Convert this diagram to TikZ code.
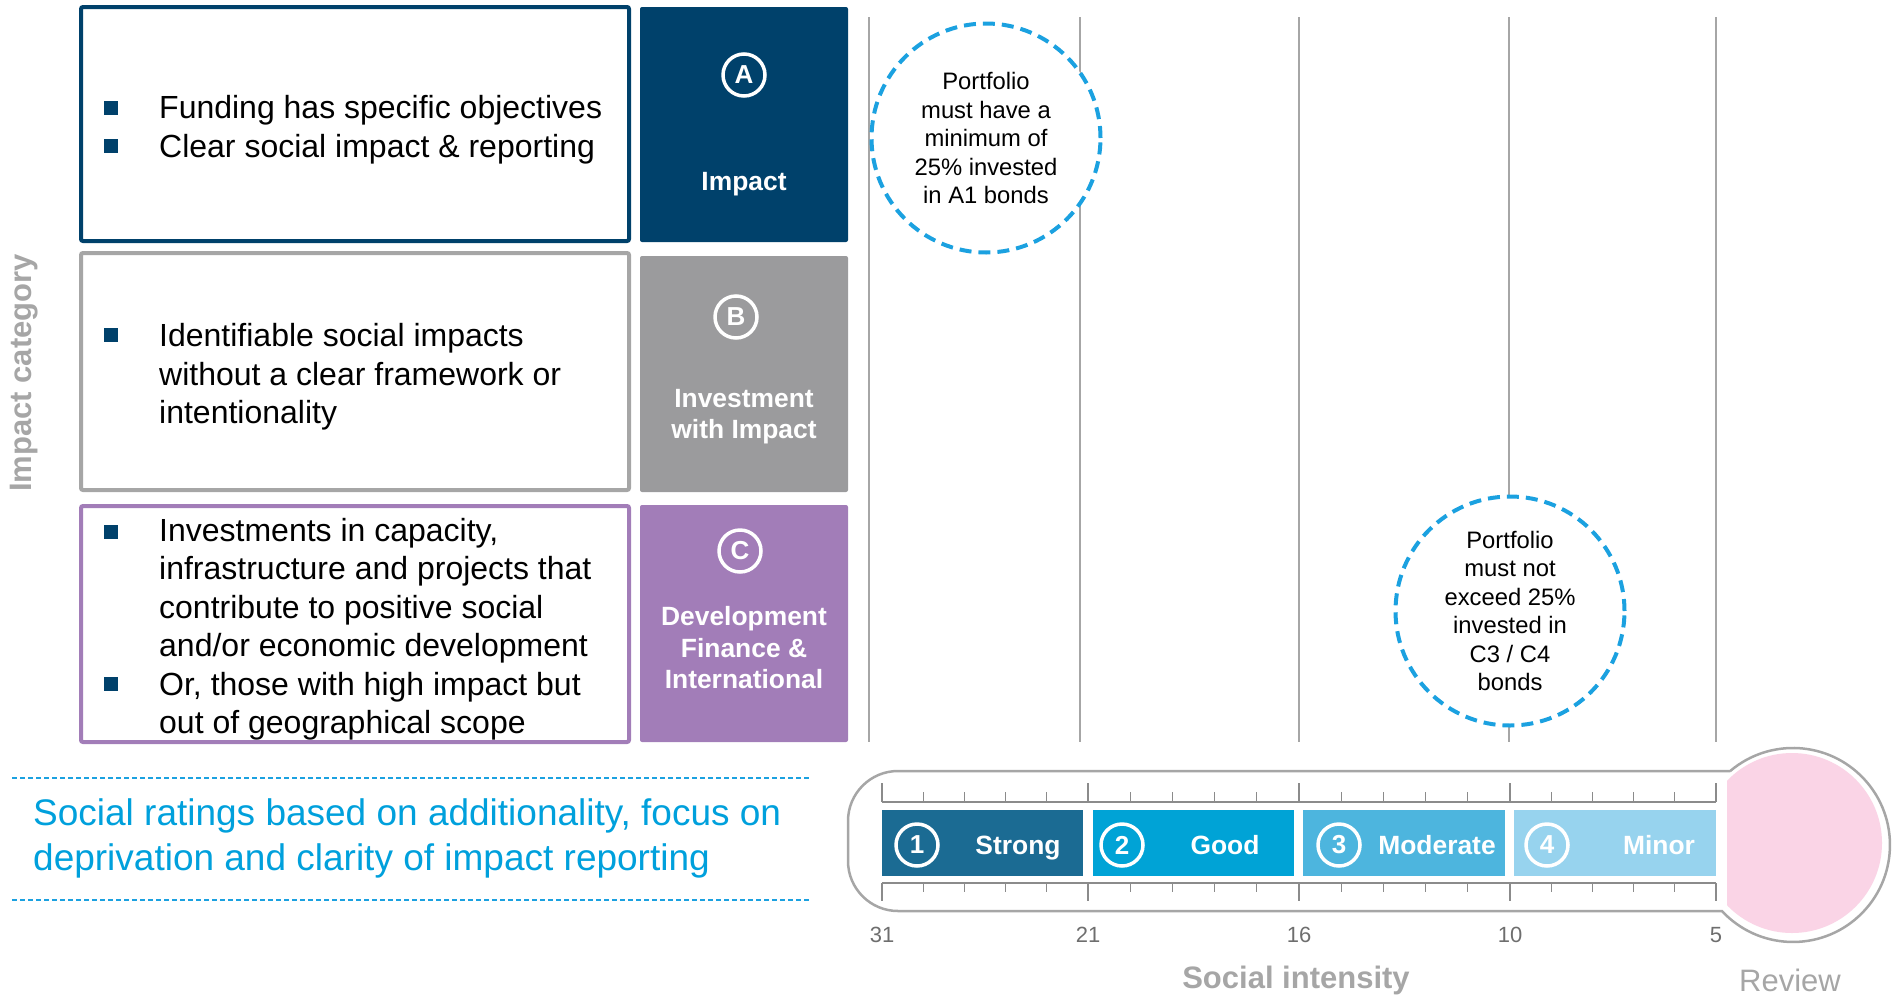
\documentclass[tikz,border=0pt]{standalone}
\usepackage{fontspec}
\setmainfont{Liberation Sans}
\definecolor{navy}{HTML}{00416B}
\definecolor{slate}{HTML}{9B9B9D}
\definecolor{lilac}{HTML}{A27DB8}
\definecolor{cyanline}{HTML}{1BA1E0}
\definecolor{cyantext}{HTML}{00A0DC}
\definecolor{strongc}{HTML}{1B6B93}
\definecolor{goodc}{HTML}{00A3D6}
\definecolor{moderatec}{HTML}{4DB5DE}
\definecolor{minorc}{HTML}{97D3EE}
\definecolor{blush}{HTML}{FAD4E6}
\definecolor{lightgrey}{HTML}{A6A6A6}
\definecolor{numgrey}{HTML}{6E6E6E}
\begin{document}
\begin{tikzpicture}[x=1pt,y=-1pt,
    catbox/.style={line width=4pt, rounded corners=2pt, fill=white},
    itemtext/.style={anchor=base west, align=left, inner sep=0pt, font=\fontsize{32}{38.5}\selectfont},
    tagtext/.style={anchor=base, align=center, inner sep=0pt, text=white, font=\fontsize{26.4}{31.5}\selectfont\bfseries},
    ring/.style={circle, draw=white, line width=3.5pt, minimum size=42pt, inner sep=0pt, text=white, font=\fontsize{26}{26}\selectfont\bfseries},
    limit/.style={circle, draw=cyanline, line width=4pt, dash pattern=on 12pt off 7pt, fill=white, minimum size=229pt, inner sep=0pt, align=center, font=\fontsize{23.8}{28.5}\selectfont},
    gridline/.style={draw=lightgrey, line width=1.5pt},
    sepline/.style={draw=cyanline, line width=1.2pt, dash pattern=on 5pt off 3pt},
    thermo/.style={draw=lightgrey, line width=2.5pt, fill=white},
    rule/.style={draw=numgrey!80, line width=1.2pt},
    scalenum/.style={text=numgrey, font=\fontsize{22}{22}\selectfont},
    ratetext/.style={anchor=base, text=white, font=\fontsize{26.4}{26.4}\selectfont\bfseries}]
  \useasboundingbox (0,0) rectangle (1900,999);

  % Axis title
  \node[rotate=90, text=lightgrey, font=\fontsize{31}{31}\selectfont\bfseries] (axis) at (24,373) {Impact category};

  % Category boxes
  \draw[catbox, draw=navy] (81,7) rectangle (629,241);
  \draw[catbox, draw=lightgrey] (81,253) rectangle (629,490);
  \draw[catbox, draw=lilac] (81,506) rectangle (629,742);

  % Bullets
  \foreach \y in {108,146,335,532,684}
    \fill[navy] (104,\y-7) rectangle (118,\y+7);

  % Bullet texts (base = last line)
  \node[itemtext] (itemA1) at (159,118.5) {Funding has specific objectives};
  \node[itemtext] (itemA2) at (159,157) {Clear social impact \& reporting};
  \node[itemtext] (itemB1) at (159,423.5) {Identifiable social impacts\\without a clear framework or\\intentionality};
  \node[itemtext] (itemC1) at (159,656.5) {Investments in capacity,\\infrastructure and projects that\\contribute to positive social\\and/or economic development};
  \node[itemtext] (itemC2) at (159,733.5) {Or, those with high impact but\\out of geographical scope};

  % Category tags
  \fill[navy, rounded corners=2pt] (640,7) rectangle (848,242);
  \fill[slate, rounded corners=2pt] (640,256) rectangle (848,492);
  \fill[lilac, rounded corners=2pt] (640,505) rectangle (848,742);
  \node[ring] (ringA) at (744,75) {A};
  \node[ring] (ringB) at (736,317) {B};
  \node[ring] (ringC) at (740,551) {C};
  \node[tagtext] (tagA) at (744,190.5) {Impact};
  \node[tagtext] (tagB) at (744,438.5) {Investment\\with Impact};
  \node[tagtext] (tagC) at (744,688.5) {Development\\Finance \&\\International};

  % Grid lines
  \foreach \x in {869,1080,1299,1509,1716}
    \draw[gridline] (\x,17) -- (\x,742);

  % Portfolio limits
  \node[limit] (limitA) at (986,138) {Portfolio\\must have a\\minimum of\\25\% invested\\in A1 bonds};
  \node[limit] (limitC) at (1510,611) {Portfolio\\must not\\exceed 25\%\\invested in\\C3 / C4\\bonds};

  % Note on the left
  \draw[sepline] (12,778) -- (809,778);
  \draw[sepline] (12,900) -- (809,900);
  \node[anchor=base west, align=left, inner sep=0pt, text=cyantext, font=\fontsize{37}{45}\selectfont] (note) at (33,870) {Social ratings based on additionality, focus on\\deprivation and clarity of impact reporting};

  % Thermometer
  \draw[thermo] (1730.3,771) -- (898,771) arc[start angle=-90, end angle=-180, radius=50]
    -- (848,861) arc[start angle=180, end angle=90, radius=50]
    -- (1721.9,911) arc[start angle=137.1, end angle=-130.3, radius=97] -- cycle;
  \begin{scope}
    \clip (1727,740) rectangle (1900,960);
    \fill[blush] (1792,843) circle[radius=90];
  \end{scope}

  % Ruler
  \draw[rule] (882,802) -- (1716,802);
  \draw[rule] (882,883) -- (1716,883);
  \foreach \x in {882,1088,1299,1510,1716} {
    \draw[rule] (\x,783) -- (\x,802);
    \draw[rule] (\x,883) -- (\x,901);
  }
  \foreach \a/\b in {882/1088,1088/1299,1299/1510,1510/1716}
    \foreach \k in {1,...,4} {
      \draw[rule] ({\a+\k*(\b-\a)/5},792) -- ({\a+\k*(\b-\a)/5},802);
      \draw[rule] ({\a+\k*(\b-\a)/5},883) -- ({\a+\k*(\b-\a)/5},892);
    }

  % Rating bars
  \fill[strongc] (882,810) rectangle (1083,876);
  \fill[goodc] (1093,810) rectangle (1294,876);
  \fill[moderatec] (1303,810) rectangle (1505,876);
  \fill[minorc] (1514,810) rectangle (1716,876);
  \node[ring] (one) at (917,845) {1};
  \node[ring] (two) at (1122,845) {2};
  \node[ring] (three) at (1339,845) {3};
  \node[ring] (four) at (1547,845) {4};
  \node[ratetext] (strong) at (1018,854.5) {Strong};
  \node[ratetext] (good) at (1225,854.5) {Good};
  \node[ratetext] (moderate) at (1437,854.5) {Moderate};
  \node[ratetext] (minor) at (1659,854.5) {Minor};

  % Scale values
  \node[scalenum] (s31) at (882,935) {31};
  \node[scalenum] (s21) at (1088,935) {21};
  \node[scalenum] (s16) at (1299,935) {16};
  \node[scalenum] (s10) at (1510,935) {10};
  \node[scalenum] (s5) at (1716,935) {5};

  % Axis labels
  \node[text=lightgrey, font=\fontsize{31}{31}\selectfont\bfseries] (intensity) at (1296,980) {Social intensity};
  \node[text=lightgrey, font=\fontsize{31}{31}\selectfont] (review) at (1790,980) {Review};
\end{tikzpicture}
\end{document}
